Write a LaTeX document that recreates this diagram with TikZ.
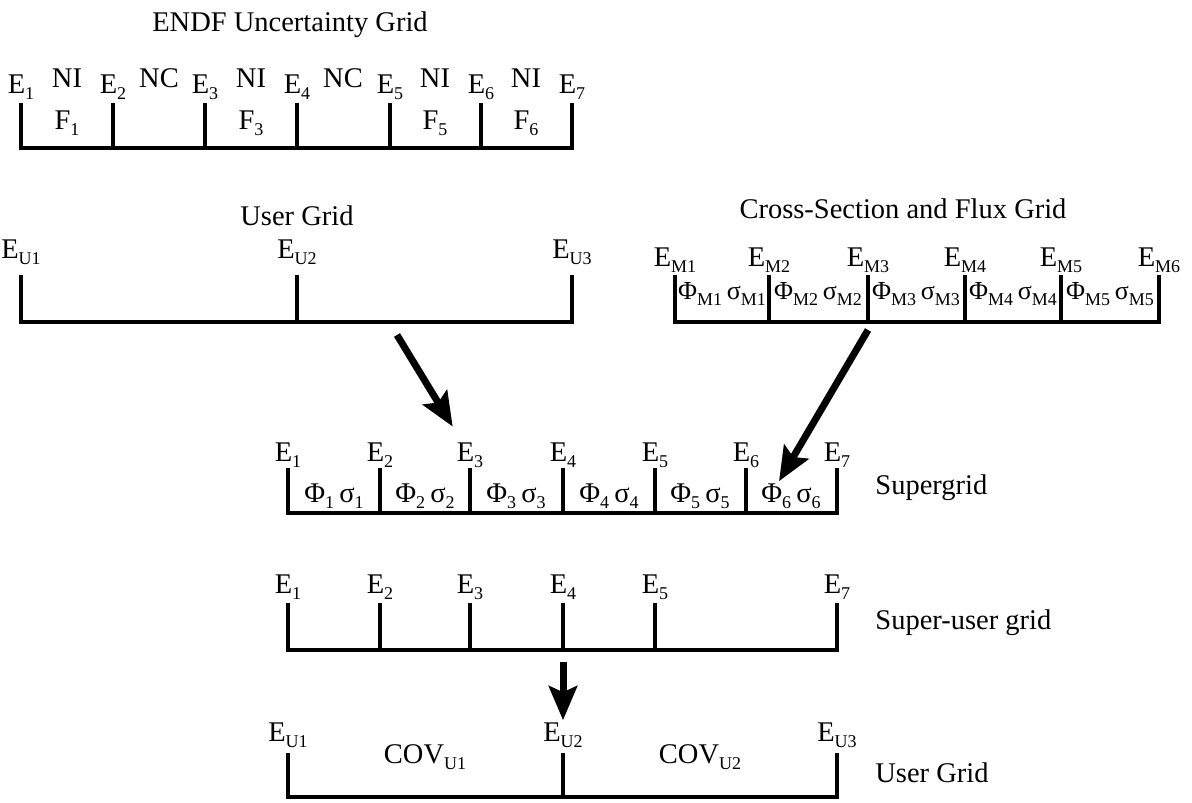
\documentclass[tikz,border=0pt]{standalone}
\usepackage{fontspec}
\setmainfont{Liberation Serif}
\usetikzlibrary{arrows.meta,calc}
\newcommand{\lowsub}[1]{\raisebox{-0.45ex}{\fontsize{9}{10}\selectfont #1}}
\newcommand{\En}[1]{E\lowsub{#1}}
\newcommand{\PhiSig}[1]{Φ\lowsub{#1}\hspace{0.18em}σ\lowsub{#1}}

\begin{document}
\begin{tikzpicture}[x=0.5pt,y=-0.5pt,
  every node/.style={font=\fontsize{14.25}{17}\selectfont,inner sep=1pt},
  small/.style={font=\fontsize{13}{15}\selectfont},
  gridline/.style={line width=2pt,line join=miter},
  tickline/.style={line width=1.7pt},
  bigarrow/.style={line width=3.5pt,-{Stealth[length=17pt,width=14pt,inset=3pt]}}]
\useasboundingbox (0,0) rectangle (1192,802);

% ENDF uncertainty grid
\node (endf-title) at (290,25) {ENDF Uncertainty Grid};
\draw[gridline] (21,103) |- (572,148) -- (572,103);
\foreach \x/\i in {21/1,113/2,205/3,297/4,390/5,481/6,572/7}{
  \draw[tickline] (\x,103) -- (\x,148);
  \node (endf-e\i) at (\x,87) {\En{\i}};
}
\foreach \x/\t [count=\k] in {67/NI,159/NC,251/NI,343/NC,435/NI,526/NI}
  \node (endf-t\k) at (\x,78) {\t};
\foreach \x/\i in {67/1,251/3,435/5,526/6}
  \node (endf-f\i) at (\x,123) {F\lowsub{\i}};

% user grid
\node (ug-title) at (297,216) {User Grid};
\draw[gridline] (21,275) |- (572,322) -- (572,275);
\draw[tickline] (297,275) -- (297,322);
\foreach \x/\i in {21/1,297/2,572/3}
  \node (ug-e\i) at (\x,252) {\En{U\i}};

% cross-section and flux grid
\node (xs-title) at (903,209) {Cross-Section and Flux Grid};
\draw[gridline] (675,275) |- (1159,322) -- (1159,275);
\foreach \x/\i in {675/1,769/2,868/3,965/4,1061/5,1159/6}{
  \draw[tickline] (\x,275) -- (\x,322);
  \node (xs-e\i) at (\x,260) {\En{M\i}};
}
\foreach \x/\i in {722/1,818/2,916/3,1013/4,1110/5}
  \node[small] (xs-f\i) at (\x,294) {\PhiSig{M\i}};

% supergrid
\draw[gridline] (288,468) |- (837,513) -- (837,468);
\foreach \x/\i in {288/1,380/2,470/3,563/4,655/5,746/6,837/7}{
  \draw[tickline] (\x,468) -- (\x,513);
  \node (sg-e\i) at (\x,455) {\En{\i}};
}
\foreach \x/\i in {334/1,425/2,516/3,609/4,700/5,791/6}
  \node (sg-f\i) at (\x,496) {\PhiSig{\i}};
\node[anchor=west] (sg-name) at (873,488) {Supergrid};

% super-user grid
\draw[gridline] (288,603) |- (837,650) -- (837,603);
\foreach \x/\i in {288/1,380/2,470/3,563/4,655/5,837/7}{
  \draw[tickline] (\x,603) -- (\x,650);
  \node (su-e\i) at (\x,587) {\En{\i}};
}
\node[anchor=west] (su-name) at (873,623) {Super-user grid};

% user grid, after collapsing
\draw[gridline] (288,753) |- (837,797) -- (837,753);
\draw[tickline] (563,753) -- (563,797);
\foreach \x/\i in {288/1,563/2,837/3}
  \node (bu-e\i) at (\x,735) {\En{U\i}};
\foreach \x/\i in {425/1,700/2}
  \node (bu-cov\i) at (\x,757) {COV\lowsub{U\i}};
\node[anchor=west] (bu-name) at (873,773) {User Grid};

% arrows
\coordinate (ug-out) at (397,335);
\coordinate (xs-out) at (868,330);
\coordinate (su-out) at (563,662);
\draw[bigarrow,shorten >=8pt] (ug-out) -- (sg-e3);
\draw[bigarrow] (xs-out) -- ($(sg-f6.north)+(-12,0)$);
\draw[bigarrow] (su-out) -- (bu-e2);
\end{tikzpicture}
\end{document}
